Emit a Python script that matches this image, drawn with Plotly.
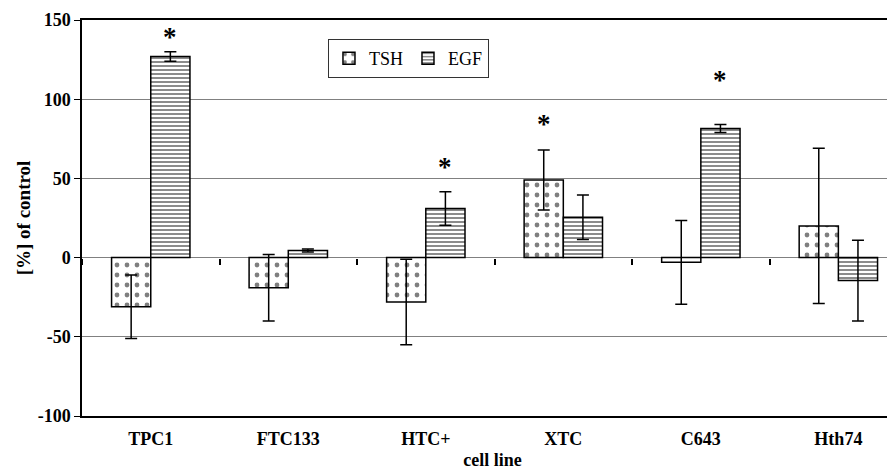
import plotly.graph_objects as go

categories = ["TPC1", "FTC133", "HTC+", "XTC", "C643", "Hth74"]
tsh_values = [-31, -19, -28, 49, -3, 20]
tsh_errors = [20, 21, 27, 19, 26.5, 49]
egf_values = [127, 4.5, 31, 25.5, 81.5, -14.5]
egf_errors = [3, 1, 10.5, 14, 2.5, 25.5]
star_cats = ["TPC1", "HTC+", "XTC", "C643"]
star_series = ["EGF", "EGF", "TSH", "EGF"]
star_y = [141, 59, 86, 114]
y_ticks = [-100, -50, 0, 50, 100, 150]
y_tick_text = ["-100", "-50", "0", "50", "100", "150"]

serif = "Liberation Serif"

fig = go.Figure()
fig.add_trace(go.Bar(
    name="TSH", x=categories, y=tsh_values,
    marker=dict(color="white", line=dict(color="black", width=1.5),
                pattern=dict(shape=".", fgcolor="black", bgcolor="white", size=10, solidity=0.18)),
    error_y=dict(type="data", array=tsh_errors, color="black", thickness=1.5, width=6),
))
fig.add_trace(go.Bar(
    name="EGF", x=categories, y=egf_values,
    marker=dict(color="white", line=dict(color="black", width=1.5),
                pattern=dict(shape="-", fgcolor="black", bgcolor="white", size=4, solidity=0.45)),
    error_y=dict(type="data", array=egf_errors, color="black", thickness=1.5, width=6),
))
# invisible trace carrying the category-boundary ticks along the zero line
fig.add_trace(go.Scatter(x=categories, y=[0] * len(categories), xaxis="x2", yaxis="y2",
                         mode="markers", marker=dict(opacity=0), showlegend=False, hoverinfo="skip"))

for c, s, yv in zip(star_cats, star_series, star_y):
    fig.add_annotation(x=c, y=yv, text="<b>*</b>", showarrow=False, xshift=(19 if s == "EGF" else -19),
                       yshift=-3, font=dict(family=serif, size=27, color="black"), yanchor="middle")

x_range = [-0.5, 5.47]
fig.update_layout(
    width=895, height=471,
    margin=dict(l=74, r=0, t=12, b=63),
    plot_bgcolor="rgba(0,0,0,0)", paper_bgcolor="white",
    barmode="group", bargap=0.43, bargroupgap=0,
    font=dict(family=serif, color="black"),
    legend=dict(orientation="h", x=0.2996, y=0.952, xanchor="left", yanchor="top",
                bordercolor="#333", borderwidth=1, bgcolor="white",
                font=dict(family=serif, size=18, color="black"), itemwidth=30, traceorder="normal"),
    xaxis=dict(type="category", range=x_range, showline=True, linecolor="black", linewidth=1.5, mirror=True,
               ticks="", ticklabelstandoff=6, tickfont=dict(family=serif, size=18, weight="bold"),
               title=dict(text="cell line", font=dict(family=serif, size=18, weight="bold"), standoff=5),
               showgrid=False, automargin=False),
    xaxis2=dict(type="category", range=x_range, anchor="y2", side="bottom",
                tickson="boundaries", ticks="outside", ticklen=6, tickwidth=1.5, tickcolor="black",
                showticklabels=False, showline=False, showgrid=False, zeroline=False),
    yaxis2=dict(domain=[0.4, 1], range=[0, 150], showticklabels=False, showgrid=False,
                showline=False, zeroline=False, ticks=""),
    yaxis=dict(range=[-100, 150], tickvals=y_ticks, ticktext=y_tick_text, ticks="outside", ticklen=6,
               tickcolor="black", showline=True, linecolor="black", linewidth=1.5,
               showgrid=True, gridcolor="#808080", gridwidth=1,
               zeroline=True, zerolinecolor="#808080", zerolinewidth=1,
               tickfont=dict(family=serif, size=18, weight="bold"), automargin=False,
               title=dict(text="[%] of control", font=dict(family=serif, size=19, weight="bold"), standoff=2)),
)
fig.write_html("out.html")
